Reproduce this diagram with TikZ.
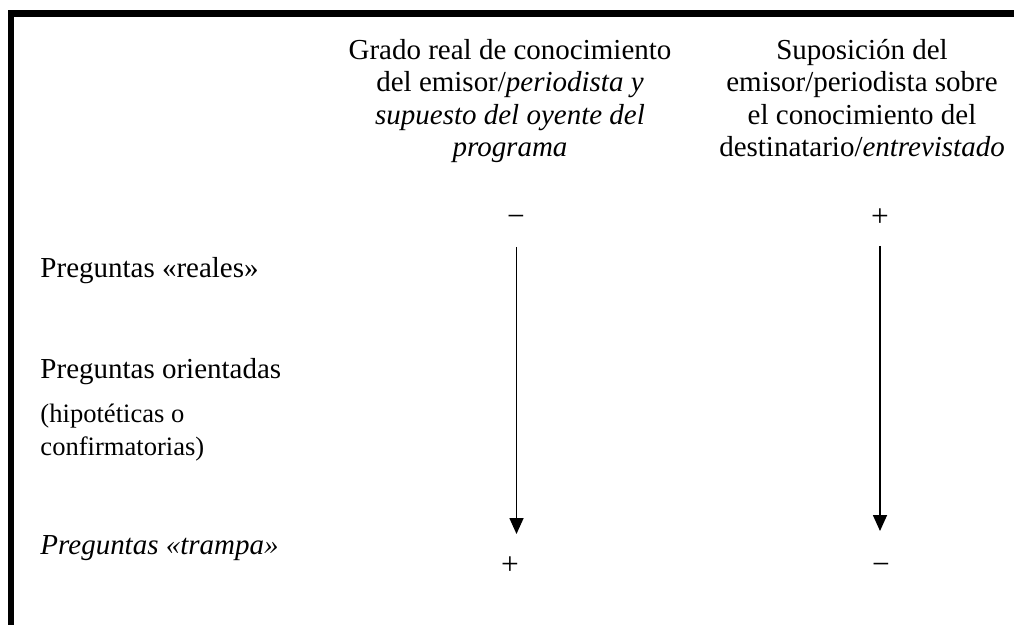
\documentclass[tikz,border=0pt]{standalone}
\usepackage{fontspec}
\setmainfont{Liberation Serif}
\usetikzlibrary{arrows.meta}
\begin{document}
\begin{tikzpicture}[x=0.414pt,y=-0.414pt,
    row/.style={anchor=base west,inner sep=0,font=\fontsize{12}{13.25}\selectfont},
    note/.style={anchor=base west,inner sep=0,align=left,font=\fontsize{11}{14}\selectfont},
    head/.style={anchor=north,inner sep=0,align=center,font=\fontsize{12}{13.35}\selectfont},
    sign/.style={anchor=base,inner sep=0,font=\fontsize{13}{14}\selectfont},
    scalearrow/.style={line width=0.6pt,-{Triangle[width=5.8pt,length=6.6pt]}}]
    \useasboundingbox (0,0) rectangle (1014,625);
    \draw[line width=2.5pt] (11,625) -- (11,13.5) -- (1014,13.5);
    % column headings
    \node[head] (grado) at (510,39) {Grado real de conocimiento\\del emisor/\textit{periodista y}\\\textit{supuesto del oyente del}\\\textit{programa}};
    \node[head] (suposicion) at (862,39) {Suposición del\\emisor/periodista sobre\\el conocimiento del\\destinatario/\textit{entrevistado}};
    % row labels
    \node[row] (reales) at (40,278) {Preguntas «reales»};
    \node[row] (orientadas) at (40,379) {Preguntas orientadas};
    \node[note] (hipoteticas) at (40,456) {(hipotéticas o\\confirmatorias)};
    \node[row] (trampa) at (40,555) {\textit{Preguntas «trampa»}};
    % scale ends
    \node[sign] (menosA) at (516,227) {−};
    \node[sign] (masA) at (510,575) {+};
    \node[sign] (masB) at (880,227) {+};
    \node[sign] (menosB) at (881,575) {−};
    \coordinate (a1) at (516.5,247);
    \coordinate (a2) at (516.5,534);
    \coordinate (b1) at (880,246);
    \coordinate (b2) at (880,531);
    \draw[scalearrow] (a1) -- (a2);
    \draw[scalearrow] (b1) -- (b2);
\end{tikzpicture}
\end{document}
